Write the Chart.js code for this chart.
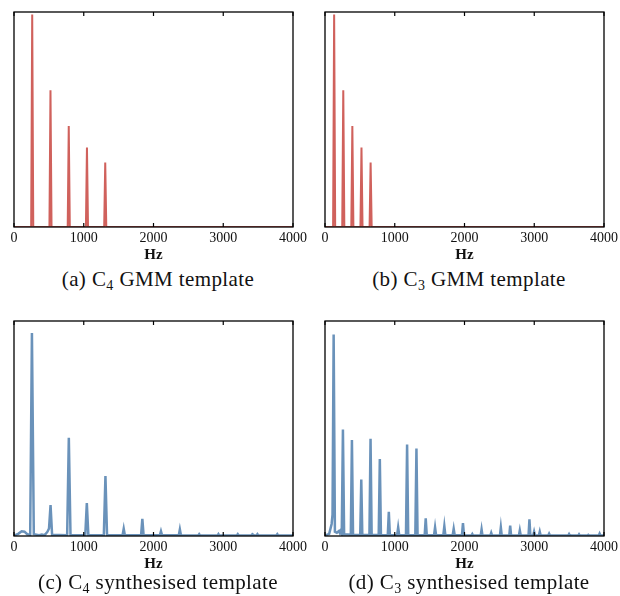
<!DOCTYPE html>
<html>
<head>
<meta charset="utf-8">
<script src="https://cdn.jsdelivr.net/npm/chart.js@4/dist/chart.umd.min.js"></script>
<style>
  body { margin: 0; background: #fff; width: 620px; height: 596px; position: relative; overflow: hidden; }
  .panel { position: absolute; width: 310px; height: 264px; }
  .cap { position: absolute; width: 310px; text-align: center; font-family: "Liberation Serif", "DejaVu Serif", serif;
         font-size: 21px; letter-spacing: 0.4px; line-height: 24px; color: #111; white-space: nowrap; }
  .cap sub { font-size: 14px; vertical-align: -4px; line-height: 0; }
</style>
</head>
<body>
<div class="panel" style="left:0;top:0"><canvas id="chartA" width="310" height="264"></canvas></div>
<div class="panel" style="left:311px;top:0"><canvas id="chartB" width="310" height="264"></canvas></div>
<div class="panel" style="left:0;top:309px"><canvas id="chartC" width="310" height="264"></canvas></div>
<div class="panel" style="left:311px;top:309px"><canvas id="chartD" width="310" height="264"></canvas></div>
<div class="cap" style="left:3px;top:267px">(a) C<sub>4</sub> GMM template</div>
<div class="cap" style="left:314px;top:267px">(b) C<sub>3</sub> GMM template</div>
<div class="cap" style="left:3px;top:570px">(c) C<sub>4</sub> synthesised template</div>
<div class="cap" style="left:314px;top:570px">(d) C<sub>3</sub> synthesised template</div>

<script>
// x ticks (Hz)
const xTicks = [0, 1000, 2000, 3000, 4000];

// GMM templates: [Hz, amplitude]
const gmmC4 = [
  [0, 0], [246, 0], [261, 0.988], [276, 0],
  [508, 0], [523, 0.636], [538, 0],
  [770, 0], [785, 0.47], [800, 0],
  [1031, 0], [1046, 0.37], [1061, 0],
  [1293, 0], [1308, 0.30], [1323, 0],
  [4000, 0]
];
const gmmC3 = [
  [0, 0], [116, 0], [131, 0.988], [146, 0],
  [247, 0], [262, 0.636], [277, 0],
  [377, 0], [392, 0.47], [407, 0],
  [508, 0], [523, 0.37], [538, 0],
  [639, 0], [654, 0.30], [669, 0],
  [4000, 0]
];

// synthesised templates: [Hz, amplitude]
const synthC4 = [
  [0, 0.002], [60, 0.01], [110, 0.022], [150, 0.02], [190, 0.008], [232, 0.006],
  [257, 0.944], [284, 0.008], [360, 0.004], [400, 0.007], [440, 0.004], [480, 0.02], [502, 0.035],
  [524, 0.144], [546, 0.006], [762, 0.004], [786, 0.457], [810, 0.004],
  [1022, 0.004], [1044, 0.153], [1066, 0.004], [1288, 0.004], [1311, 0.279], [1334, 0.003],
  [1556, 0.003], [1573, 0.034], [1590, 0.003], [1822, 0.003], [1840, 0.08], [1858, 0.003],
  [2091, 0.003], [2107, 0.022], [2123, 0.003], [2362, 0.003], [2378, 0.031], [2394, 0.003],
  [2642, 0.002], [2655, 0.008], [2668, 0.002], [2918, 0.002], [2931, 0.009], [2944, 0.002],
  [3195, 0.002], [3208, 0.008], [3221, 0.002], [3405, 0.002], [3418, 0.008], [3440, 0.003],
  [3477, 0.002], [3490, 0.008], [3503, 0.002], [3762, 0.002], [3775, 0.008], [3788, 0.002],
  [4000, 0.002]
];
const synthC3 = [
  [0, 0.002], [60, 0.01], [95, 0.056], [108, 0.1], [124, 0.937], [142, 0.02], [170, 0.015],
  [200, 0.023], [213, 0.014], [224, 0.023], [240, 0.01], [257, 0.495], [274, 0.008],
  [370, 0.006], [386, 0.446], [402, 0.006], [505, 0.005], [520, 0.263], [535, 0.005],
  [637, 0.005], [653, 0.452], [669, 0.005], [770, 0.005], [786, 0.358], [802, 0.005],
  [900, 0.004], [915, 0.113], [930, 0.004], [1034, 0.004], [1049, 0.04], [1064, 0.004],
  [1161, 0.004], [1177, 0.426], [1193, 0.004], [1295, 0.004], [1311, 0.407], [1327, 0.004],
  [1429, 0.003], [1444, 0.082], [1459, 0.003], [1563, 0.003], [1578, 0.04], [1593, 0.003],
  [1696, 0.003], [1711, 0.046], [1726, 0.003], [1830, 0.003], [1845, 0.034], [1860, 0.003],
  [1963, 0.003], [1978, 0.06], [1993, 0.003], [2100, 0.002], [2112, 0.009], [2124, 0.002],
  [2232, 0.002], [2245, 0.031], [2258, 0.002], [2370, 0.002], [2383, 0.015], [2396, 0.002],
  [2508, 0.002], [2521, 0.04], [2534, 0.002], [2642, 0.002], [2655, 0.048], [2668, 0.002],
  [2780, 0.002], [2793, 0.026], [2806, 0.002], [2918, 0.002], [2931, 0.077], [2944, 0.002],
  [2985, 0.002], [2998, 0.02], [3011, 0.002], [3066, 0.002], [3079, 0.02], [3092, 0.002],
  [3200, 0.002], [3213, 0.011], [3226, 0.002], [3487, 0.002], [3499, 0.009], [3511, 0.002],
  [3630, 0.002], [3642, 0.008], [3654, 0.002], [3763, 0.002], [3775, 0.005], [3787, 0.002],
  [3925, 0.002], [3937, 0.011], [3949, 0.002], [4000, 0.002]
];

const RED = '#d0615c';
const BLUE = '#6a92ba';
const SERIF = '"Liberation Serif", "DejaVu Serif", serif';

// box round the plot + inward ticks top and bottom
const framePlugin = {
  id: 'frame',
  afterDraw(chart) {
    const { ctx, chartArea: a, scales } = chart;
    ctx.save();
    ctx.strokeStyle = '#000';
    ctx.lineWidth = 1.3;
    ctx.strokeRect(a.left, a.top, a.right - a.left, a.bottom - a.top);
    ctx.lineWidth = 1.2;
    xTicks.forEach(v => {
      const px = scales.x.getPixelForValue(v);
      ctx.beginPath();
      ctx.moveTo(px, a.bottom); ctx.lineTo(px, a.bottom - 4);
      ctx.moveTo(px, a.top); ctx.lineTo(px, a.top + 4);
      ctx.stroke();
    });
    ctx.restore();
  }
};

function makeChart(id, points, color, width) {
  new Chart(document.getElementById(id), {
    type: 'line',
    data: {
      datasets: [{
        data: points.map(p => ({ x: p[0], y: p[1] })),
        borderColor: color,
        borderWidth: width,
        pointRadius: 0,
        tension: 0,
        fill: false
      }]
    },
    options: {
      responsive: false,
      animation: false,
      layout: { padding: { left: 14, right: 16, top: 12, bottom: 0 } },
      plugins: { legend: { display: false }, tooltip: { enabled: false } },
      scales: {
        x: {
          type: 'linear',
          min: 0, max: 4000,
          afterBuildTicks: s => { s.ticks = xTicks.map(v => ({ value: v })); },
          afterFit: s => { s.height = 37; },
          grid: { display: false, drawTicks: false },
          border: { display: false },
          ticks: { color: '#111', padding: 3, maxRotation: 0, font: { family: SERIF, size: 14 },
                   callback: v => String(v) },
          title: { display: true, text: 'Hz', color: '#111', padding: 0,
                   font: { family: SERIF, size: 15, weight: 'bold' } }
        },
        y: { display: false, min: 0, max: 1 }
      }
    },
    plugins: [framePlugin]
  });
}

makeChart('chartA', gmmC4, RED, 2);
makeChart('chartB', gmmC3, RED, 2);
makeChart('chartC', synthC4, BLUE, 2.5);
makeChart('chartD', synthC3, BLUE, 2.5);
</script>
</body>
</html>
